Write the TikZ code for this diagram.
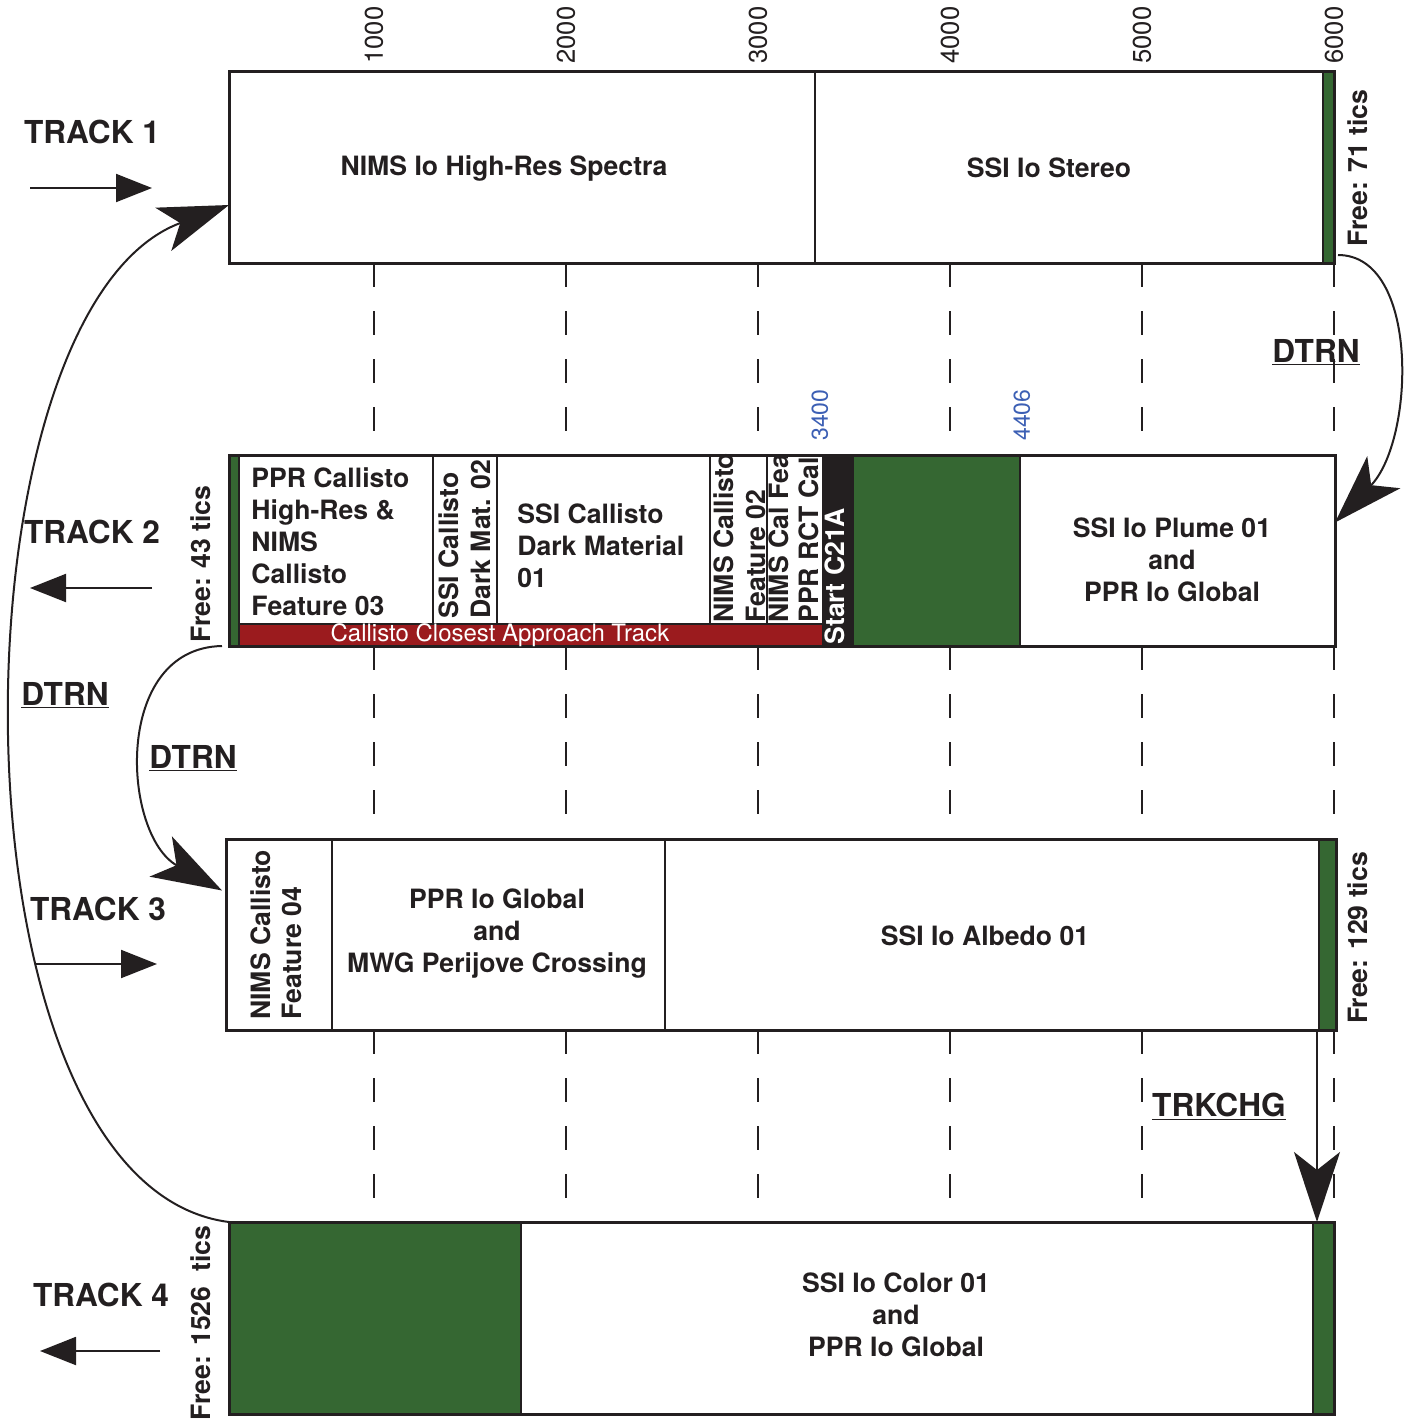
\documentclass[tikz,border=0pt]{standalone}
\usepackage{fontspec}
\setmainfont{TeX Gyre Heros}
\usetikzlibrary{arrows.meta}
\definecolor{grn}{RGB}{53,103,50}
\definecolor{crd}{RGB}{155,27,30}
\definecolor{ink}{RGB}{35,31,32}
\definecolor{tblue}{RGB}{60,95,180}
\begin{document}
\begin{tikzpicture}[x=0.5pt,y=-0.5pt,
        trk/.style={draw=ink, line width=1.5pt, inner sep=0pt, outer sep=0pt, anchor=north west},
        blk/.style={font=\fontsize{13.3}{16}\selectfont\bfseries, text=ink, inner sep=0pt},
        vblk/.style={blk, rotate=90, anchor=north west, align=left},
        freelbl/.style={blk, rotate=90},
        ticlbl/.style={font=\fontsize{12.8}{14}\selectfont, text=ink, rotate=90, anchor=west, inner sep=0pt},
        bluelbl/.style={ticlbl, font=\fontsize{11.5}{13}\selectfont, text=tblue},
        trklbl/.style={font=\fontsize{15.8}{18}\selectfont\bfseries, text=ink, inner sep=0pt, anchor=base},
        divl/.style={draw=ink, line width=1pt},
        tic/.style={draw=ink, line width=1pt, dash pattern=on 12pt off 12pt},
        dirarr/.style={draw=ink, line width=1pt, -{Triangle[length=18pt,width=14pt]}},
        jump/.style={draw=ink, line width=1pt, -{Stealth[length=35pt,width=23pt,inset=9pt]}}
    ]
    \useasboundingbox (0,0) rectangle (1404,1420);
    % scale and dashed guides
    \foreach \v [count=\i] in {1000,2000,3000,4000,5000,6000}
        \node[ticlbl] (k\i) at (182+192*\i,64) {\v};
    \foreach \x in {374,566,758,950,1142,1334}
        \foreach \ya/\yb in {263/455,646/839,1030/1222}
            \draw[tic] (\x,\ya) -- (\x,\yb);

    % track 1
    \fill[grn] (1323,71) rectangle (1334,263);
    \node[trk, minimum width=552.5pt, minimum height=96pt] (t1) at (229,71) {};
    \draw[divl] (815,71) -- (815,263) (1323,71) -- (1323,263);
    \node[blk] (s11) at (504,168) {NIMS Io High-Res Spectra};
    \node[blk] (s12) at (1049,168) {SSI Io Stereo};
    \node[freelbl] (f1) at (1358,168) {Free: 71 tics};

    % track 2
    \fill[grn] (229,455) rectangle (239,646);
    \fill[crd] (239,624) rectangle (822,646);
    \fill[ink] (822,455) rectangle (853,646);
    \fill[grn] (853,455) rectangle (1020,646);
    \node[trk, minimum width=553pt, minimum height=95.5pt] (t2) at (229,455) {};
    \draw[divl] (239,455) -- (239,646) (239,624) -- (822,624)
        (433,455) -- (433,624) (497,455) -- (497,624)
        (710,455) -- (710,624) (767,455) -- (767,624)
        (853,455) -- (853,646) (1020,455) -- (1020,646);
    \node[blk, anchor=north west, align=left] (s21) at (251,467) {PPR Callisto\\High-Res \&\\NIMS\\Callisto\\Feature 03};
    \node[vblk] (s22) at (438,619) {SSI Callisto\\Dark Mat. 02};
    \node[blk, anchor=north west, align=left] (s23) at (517,503) {SSI Callisto\\Dark Material\\01};
    \node[vblk] (s24) at (713,623) {NIMS Callisto\\Feature 02};
    \node[vblk] (s25) at (768,623) {NIMS Cal Fea};
    \node[vblk] (s26) at (798,623) {PPR RCT Cal};
    \node[vblk, text=white] (s27) at (824,645) {Start C21A};
    \node[blk, align=center] (s28) at (1172,560) {SSI Io Plume 01\\and\\PPR Io Global};
    \node[font=\fontsize{12}{14}\selectfont, text=white, inner sep=0pt] (cca) at (500,635) {Callisto Closest Approach Track};
    \node[freelbl] (f2) at (201,564) {Free: 43 tics};
    \node[bluelbl] (b1) at (820,441) {3400};
    \node[bluelbl] (b2) at (1022,441) {4406};

    % track 3
    \fill[grn] (1319,839) rectangle (1336,1030);
    \node[trk, minimum width=555pt, minimum height=95.5pt] (t3) at (226,839) {};
    \draw[divl] (332,839) -- (332,1030) (665,839) -- (665,1030) (1319,839) -- (1319,1030);
    \node[vblk, font=\fontsize{13.3}{15.5}\selectfont\bfseries] (s31) at (250,1020) {NIMS Callisto\\Feature 04};
    \node[blk, align=center] (s32) at (497,934) {PPR Io Global\\and\\MWG Perijove Crossing};
    \node[blk] (s33) at (985,936) {SSI Io Albedo 01};
    \node[freelbl] (f3) at (1358,938) {Free: 129 tics};

    % track 4
    \fill[grn] (229,1222) rectangle (521,1414);
    \fill[grn] (1313,1222) rectangle (1334,1414);
    \node[trk, minimum width=552.5pt, minimum height=96pt] (t4) at (229,1222) {};
    \draw[divl] (521,1222) -- (521,1414) (1313,1222) -- (1313,1414);
    \node[blk, align=center] (s41) at (896,1315) {SSI Io Color 01\\and\\PPR Io Global};
    \node[freelbl] (f4) at (201,1323) {Free: 1526~~tics};

    % track names and directions
    \node[trklbl] (l1) at (92,143) {TRACK 1};
    \node[trklbl] (l2) at (92,543) {TRACK 2};
    \node[trklbl] (l3) at (98,920) {TRACK 3};
    \node[trklbl] (l4) at (101,1306) {TRACK 4};
    \draw[dirarr] (30,188) -- (152,188);
    \draw[dirarr] (152,588) -- (30,588);
    \draw[dirarr] (35,964) -- (157,964);
    \draw[dirarr] (160,1351) -- (40,1351);

    % transitions
    \node[trklbl] (d1) at (1316,362) {\underline{DTRN}};
    \node[trklbl] (d2) at (65,705) {\underline{DTRN}};
    \node[trklbl] (d3) at (193,768) {\underline{DTRN}};
    \node[trklbl] (d4) at (1219,1116) {\underline{TRKCHG}};
    \draw[jump] ([shift={(4,-8)}]t1.south east) .. controls (1420,255) and (1415,440) .. ([shift={(0,-28)}]t2.east);
    \draw[jump] ([shift={(-7,0)}]t2.south west) .. controls (112,648) and (122,835) .. ([shift={(-4,-44)}]t3.west);
    \draw[jump] (t4.north west) .. controls (-60,1185) and (-55,310) .. ([shift={(0,38)}]t1.west);
    \draw[jump] ([shift={(-19,0)}]t3.south east) -- ([shift={(-17,0)}]t4.north east);
\end{tikzpicture}
\end{document}
